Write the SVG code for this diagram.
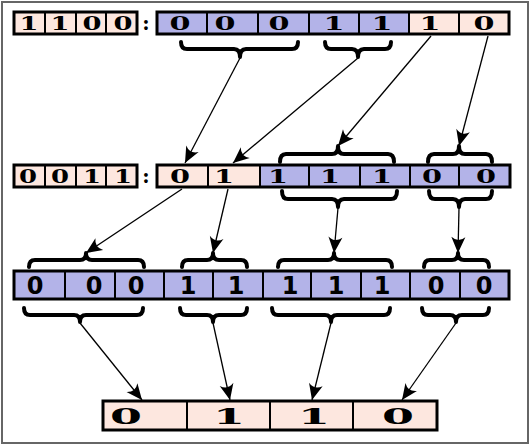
<svg xmlns="http://www.w3.org/2000/svg" width="532" height="447" viewBox="0 0 532 447">
<style>
.p{fill:#fde7df;stroke:#000;stroke-width:2}
.b{fill:#b3b3e8;stroke:#000;stroke-width:2}
.o{fill:none;stroke:#000;stroke-width:3}
.s{font-family:"DejaVu Serif","Liberation Serif",serif;font-weight:bold;text-anchor:middle;fill:#000}
.t{font-family:"DejaVu Sans","Liberation Sans",sans-serif;font-weight:bold;text-anchor:middle;fill:#000;font-size:24px}
.br{fill:none;stroke:#000;stroke-width:4;stroke-linecap:round;stroke-linejoin:round}
.ar{fill:none;stroke:#000;stroke-width:1.3}
</style>
<defs>
<marker id="ah" viewBox="-17 -8 18 16" markerWidth="18" markerHeight="16" refX="0" refY="0" orient="auto" markerUnits="userSpaceOnUse">
<path d="M0,0 L-16,-7 Q-10,0 -16,7 Z" fill="#000"/>
</marker>
</defs>
<rect x="0" y="0" width="532" height="447" fill="#fff"/>
<rect x="2" y="2" width="526" height="441" fill="none" stroke="#666" stroke-width="2"/>

<g id="row1">
<rect class="p" x="14" y="12" width="31" height="22"/><rect class="p" x="45" y="12" width="31" height="22"/><rect class="p" x="76" y="12" width="30" height="22"/><rect class="p" x="106" y="12" width="31" height="22"/>
<rect class="o" x="14" y="12" width="123" height="22"/>
<g class="s" font-size="19">
<text x="29" y="30" textLength="19" lengthAdjust="spacingAndGlyphs">1</text><text x="60" y="30" textLength="19" lengthAdjust="spacingAndGlyphs">1</text><text x="92" y="30" textLength="19" lengthAdjust="spacingAndGlyphs">0</text><text x="123" y="30" textLength="19" lengthAdjust="spacingAndGlyphs">0</text>
<text x="146" y="30" font-size="20">:</text>
</g>
<rect class="b" x="157" y="12" width="50" height="22"/><rect class="b" x="207" y="12" width="51" height="22"/><rect class="b" x="258" y="12" width="51" height="22"/><rect class="b" x="309" y="12" width="50" height="22"/><rect class="b" x="359" y="12" width="50" height="22"/><rect class="p" x="409" y="12" width="50" height="22"/><rect class="p" x="459" y="12" width="50" height="22"/>
<rect class="o" x="157" y="12" width="352" height="22"/>
<g class="s" font-size="19">
<text x="180" y="30" textLength="21" lengthAdjust="spacingAndGlyphs">0</text><text x="225" y="30" textLength="21" lengthAdjust="spacingAndGlyphs">0</text><text x="279" y="30" textLength="21" lengthAdjust="spacingAndGlyphs">0</text><text x="334" y="30" textLength="21" lengthAdjust="spacingAndGlyphs">1</text><text x="382" y="30" textLength="21" lengthAdjust="spacingAndGlyphs">1</text><text x="430" y="30" textLength="21" lengthAdjust="spacingAndGlyphs">1</text><text x="484" y="30" textLength="21" lengthAdjust="spacingAndGlyphs">0</text>
</g>
</g>

<g id="row2">
<rect class="p" x="14" y="165" width="31" height="22"/><rect class="p" x="45" y="165" width="31" height="22"/><rect class="p" x="76" y="165" width="30" height="22"/><rect class="p" x="106" y="165" width="31" height="22"/>
<rect class="o" x="14" y="165" width="123" height="22"/>
<g class="s" font-size="18">
<text x="28" y="183" textLength="18" lengthAdjust="spacingAndGlyphs">0</text><text x="60" y="183" textLength="18" lengthAdjust="spacingAndGlyphs">0</text><text x="92" y="183" textLength="18" lengthAdjust="spacingAndGlyphs">1</text><text x="123" y="183" textLength="18" lengthAdjust="spacingAndGlyphs">1</text>
<text x="146" y="183" font-size="20">:</text>
</g>
<rect class="p" x="157" y="165" width="51" height="22"/><rect class="p" x="208" y="165" width="52" height="22"/><rect class="b" x="260" y="165" width="49" height="22"/><rect class="b" x="309" y="165" width="51" height="22"/><rect class="b" x="360" y="165" width="50" height="22"/><rect class="b" x="410" y="165" width="49" height="22"/><rect class="b" x="459" y="165" width="51" height="22"/>
<rect class="o" x="157" y="165" width="353" height="22"/>
<g class="s" font-size="18">
<text x="180" y="183" textLength="20" lengthAdjust="spacingAndGlyphs">0</text><text x="224" y="183" textLength="20" lengthAdjust="spacingAndGlyphs">1</text><text x="278" y="183" textLength="20" lengthAdjust="spacingAndGlyphs">1</text><text x="330" y="183" textLength="20" lengthAdjust="spacingAndGlyphs">1</text><text x="382" y="183" textLength="20" lengthAdjust="spacingAndGlyphs">1</text><text x="432" y="183" textLength="20" lengthAdjust="spacingAndGlyphs">0</text><text x="486" y="183" textLength="20" lengthAdjust="spacingAndGlyphs">0</text>
</g>
</g>

<g id="row3">
<rect class="b" x="14" y="271" width="51" height="28"/><rect class="b" x="65" y="271" width="50" height="28"/><rect class="b" x="115" y="271" width="49" height="28"/><rect class="b" x="164" y="271" width="49" height="28"/><rect class="b" x="213" y="271" width="50" height="28"/><rect class="b" x="263" y="271" width="48" height="28"/><rect class="b" x="311" y="271" width="50" height="28"/><rect class="b" x="361" y="271" width="49" height="28"/><rect class="b" x="410" y="271" width="50" height="28"/><rect class="b" x="460" y="271" width="49" height="28"/>
<rect class="o" x="14" y="271" width="495" height="28"/>
<g class="t">
<text x="35" y="294">0</text><text x="94" y="294">0</text><text x="136" y="294">0</text><text x="188" y="294">1</text><text x="236" y="294">1</text><text x="290" y="294">1</text><text x="336" y="294">1</text><text x="382" y="294">1</text><text x="436" y="294">0</text><text x="484" y="294">0</text>
</g>
</g>

<g id="row4">
<rect class="p" x="103" y="401" width="84" height="29"/><rect class="p" x="187" y="401" width="83" height="29"/><rect class="p" x="270" y="401" width="83" height="29"/><rect class="p" x="353" y="401" width="84" height="29"/>
<rect class="o" x="103" y="401" width="334" height="29"/>
<g class="s" font-size="23">
<text x="126" y="424" textLength="32" lengthAdjust="spacingAndGlyphs">0</text><text x="229" y="424" textLength="32" lengthAdjust="spacingAndGlyphs">1</text><text x="314" y="424" textLength="32" lengthAdjust="spacingAndGlyphs">1</text><text x="398" y="424" textLength="32" lengthAdjust="spacingAndGlyphs">0</text>
</g>
</g>

<g id="braces" class="br">
<path d="M181,42 Q181,49 187,49 H234 Q240,49 240,57 Q240,49 246,49 H292 Q298,49 298,42"/>
<path d="M325,42 Q325,49 331,49 H352 Q358,49 358,57 Q358,49 364,49 H385 Q391,49 391,42"/>
<path d="M280,162 Q280,154 286,154 H332 Q338,154 338,146 Q338,154 344,154 H388 Q394,154 394,162"/>
<path d="M428,162 Q428,154 434,154 H453 Q459,154 459,146 Q459,154 465,154 H486 Q492,154 492,162"/>
<path d="M282,191 Q282,199 288,199 H332 Q338,199 338,207 Q338,199 344,199 H391 Q397,199 397,191"/>
<path d="M429,191 Q429,199 435,199 H453 Q459,199 459,207 Q459,199 465,199 H486 Q492,199 492,191"/>
<path d="M29,267 Q29,260 35,260 H80 Q86,260 86,253 Q86,260 92,260 H138 Q144,260 144,267"/>
<path d="M182,267 Q182,260 188,260 H207 Q213,260 213,253 Q213,260 219,260 H241 Q247,260 247,267"/>
<path d="M278,267 Q278,260 284,260 H328 Q334,260 334,253 Q334,260 340,260 H386 Q392,260 392,267"/>
<path d="M424,267 Q424,260 430,260 H452 Q458,260 458,253 Q458,260 464,260 H483 Q489,260 489,267"/>
<path d="M24,308 Q24,315 30,315 H74 Q80,315 80,322 Q80,315 86,315 H137 Q143,315 143,308"/>
<path d="M180,308 Q180,315 186,315 H207 Q213,315 213,322 Q213,315 219,315 H241 Q247,315 247,308"/>
<path d="M272,308 Q272,315 278,315 H325 Q331,315 331,322 Q331,315 337,315 H384 Q390,315 390,308"/>
<path d="M422,308 Q422,315 428,315 H450 Q456,315 456,322 Q456,315 462,315 H483 Q489,315 489,308"/>
</g>

<g id="connectors" class="ar">
<line x1="240" y1="58" x2="185" y2="163" marker-end="url(#ah)"/>
<line x1="358" y1="58" x2="233" y2="163" marker-end="url(#ah)"/>
<line x1="431" y1="36" x2="338" y2="146" marker-end="url(#ah)"/>
<line x1="488" y1="36" x2="459" y2="146" marker-end="url(#ah)"/>
<line x1="182" y1="189" x2="86" y2="253" marker-end="url(#ah)"/>
<line x1="228" y1="189" x2="213" y2="253" marker-end="url(#ah)"/>
<line x1="338" y1="208" x2="334" y2="253" marker-end="url(#ah)"/>
<line x1="459" y1="208" x2="458" y2="253" marker-end="url(#ah)"/>
<line x1="80" y1="323" x2="142" y2="400" marker-end="url(#ah)"/>
<line x1="213" y1="323" x2="230" y2="400" marker-end="url(#ah)"/>
<line x1="331" y1="323" x2="312" y2="400" marker-end="url(#ah)"/>
<line x1="456" y1="323" x2="402" y2="400" marker-end="url(#ah)"/>
</g>
</svg>
